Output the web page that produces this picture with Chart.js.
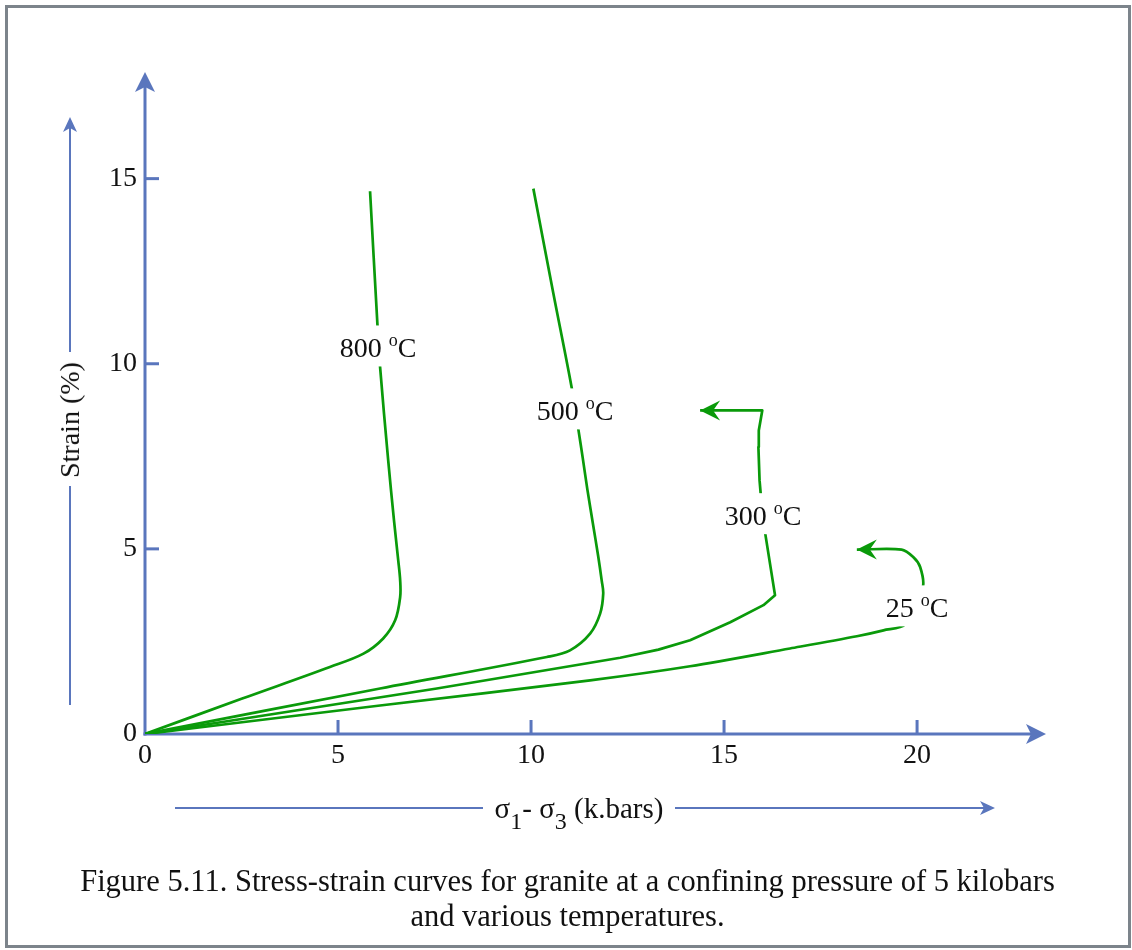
<!DOCTYPE html>
<html><head><meta charset="utf-8">
<script src="https://cdn.jsdelivr.net/npm/chart.js@4.4.1/dist/chart.umd.min.js"></script>
<style>
html,body{margin:0;padding:0;background:#fff;}
#wrap{position:relative;width:1132px;height:950px;overflow:hidden;font-family:"Liberation Serif","Times New Roman",serif;color:#111;}
#frame{position:absolute;left:5px;top:5px;width:1126px;height:943px;box-sizing:border-box;border:3px solid #7c848b;}
canvas{position:absolute;left:0;top:0;}
.t{position:absolute;white-space:nowrap;line-height:1;}
.sb{font-size:24px;position:relative;top:11px;}
</style></head><body>
<div id="wrap">
<div id="frame"></div>
<canvas id="c" width="1132" height="950"></canvas>
<div class="t" id="xt" style="left:579px;top:794px;font-size:29px;transform:translateX(-50%);">σ<span class="sb">1</span>- σ<span class="sb">3</span> (k.bars)</div>
<div class="t" id="yt" style="left:70px;top:420px;font-size:28px;transform:translate(-50%,-50%) rotate(-90deg);">Strain (%)</div>
<div class="t" id="cap" style="left:0;width:1135px;top:864px;font-size:30.5px;line-height:35px;text-align:center;">Figure 5.11. Stress-strain curves for granite at a confining pressure of 5 kilobars<br>and various temperatures.</div>
</div>
<script>
// ---- data (stress σ1-σ3 in kbar, strain in %) ----
const c800x = [0, 2.5, 4.79, 5.66, 6.17, 6.48, 6.61, 6.61, 6.56, 6.45, 6.30, 6.09, 6.02, 5.83];
const c800y = [0, 0.95, 1.81, 2.17, 2.58, 3.07, 3.70, 4.15, 4.69, 5.77, 7.39, 9.91, 11.08, 14.66];
const c500x = [0, 6.09, 10.41, 11.01, 11.53, 11.79, 11.87, 11.83, 11.74, 11.60, 11.46, 11.34, 11.23, 11.05, 10.58, 10.06];
const c500y = [0, 1.23, 2.08, 2.26, 2.71, 3.25, 3.79, 4.15, 4.80, 5.70, 6.60, 7.45, 8.20, 9.37, 11.89, 14.73];
const c300x = [0, 7.56, 12.31, 13.30, 14.12, 15.16, 16.02, 16.32, 16.06, 15.96, 15.92, 15.89, 15.90, 15.99, 14.38];
const c300y = [0, 1.23, 2.06, 2.28, 2.53, 3.02, 3.48, 3.75, 5.46, 6.36, 6.85, 7.75, 8.20, 8.74, 8.74];
const c25x  = [0, 6.09, 11.53, 14.12, 16.71, 18.44, 19.13, 19.69, 20.15, 20.08, 19.90, 19.60, 18.44];
const c25y  = [0, 0.77, 1.45, 1.83, 2.31, 2.64, 2.80, 2.96, 3.97, 4.51, 4.78, 4.98, 4.98];
const curveNames = ['800', '500', '300', '25'];
const labelX = [6.04, 11.14, 16.01, 20.0];
const labelY = [10.44, 8.74, 5.91, 3.42];
const arrowEnd = [false, false, true, true];
const xTickStep = 5, yTickStep = 5;
const X_MAX = 23.34, Y_MAX = 17.88;

const AXIS = '#5a76bd', GREEN = '#0a9a0a', TXT = '#111';
const SERIF = '"Liberation Serif", "Times New Roman", serif';

function pts(xs, ys){ return xs.map((x,i)=>({x:x, y:ys[i]})); }
const series = [pts(c800x,c800y), pts(c500x,c500y), pts(c300x,c300y), pts(c25x,c25y)];
const tensions = [0.35, 0.35, 0, 0.3];

function arrowHead(ctx, tx, ty, ang, len, half, notch, color){
  ctx.save(); ctx.translate(tx, ty); ctx.rotate(ang);
  ctx.beginPath(); ctx.moveTo(0,0); ctx.lineTo(-len,-half); ctx.lineTo(-len+notch,0); ctx.lineTo(-len,half); ctx.closePath();
  ctx.fillStyle = color; ctx.fill(); ctx.restore();
}
function line(ctx, x1,y1,x2,y2,w,color){
  ctx.save(); ctx.strokeStyle=color; ctx.lineWidth=w; ctx.beginPath(); ctx.moveTo(x1,y1); ctx.lineTo(x2,y2); ctx.stroke(); ctx.restore();
}

const axesPlugin = {
  id:'axesArrows',
  beforeDatasetsDraw(chart){
    const ctx = chart.ctx, xs = chart.scales.x, ys = chart.scales.y;
    const x0 = xs.getPixelForValue(0), y0 = ys.getPixelForValue(0);
    const xe = xs.getPixelForValue(X_MAX), ye = ys.getPixelForValue(Y_MAX);
    line(ctx, x0-1.5, y0, xe-12, y0, 3, AXIS);
    line(ctx, x0, y0+1.5, x0, ye+12, 3, AXIS);
    arrowHead(ctx, xe, y0, 0, 20, 10, 5, AXIS);
    arrowHead(ctx, x0, ye, -Math.PI/2, 20, 10, 5, AXIS);
    xs.ticks.forEach(t=>{ if(t.value>0){ const p=xs.getPixelForValue(t.value); line(ctx,p,y0,p,y0-14,3,AXIS);} });
    ys.ticks.forEach(t=>{ if(t.value>0){ const p=ys.getPixelForValue(t.value); line(ctx,x0,p,x0+14,p,3,AXIS);} });
    // axis-title arrows
    line(ctx, 175, 808, 483, 808, 2, AXIS);
    line(ctx, 675, 808, 985, 808, 2, AXIS);
    arrowHead(ctx, 995, 808, 0, 15, 7, 4, AXIS);
    line(ctx, 70, 705, 70, 486, 2, AXIS);
    line(ctx, 70, 352, 70, 127, 2, AXIS);
    arrowHead(ctx, 70, 117, -Math.PI/2, 15, 7, 4, AXIS);
  },
  afterDatasetsDraw(chart){
    const ctx = chart.ctx, xs = chart.scales.x, ys = chart.scales.y;
    chart.data.datasets.forEach((ds, i)=>{
      if(!arrowEnd[i]) return;
      const d = chart.getDatasetMeta(i).data; const a = d[d.length-2], b = d[d.length-1];
      arrowHead(ctx, b.x, b.y, Math.atan2(b.y-a.y, b.x-a.x), 20, 10, 7, GREEN);
    });
    curveNames.forEach((n, i)=>{
      const cx = xs.getPixelForValue(labelX[i]), cy = ys.getPixelForValue(labelY[i]);
      const big = '28px ' + SERIF, small = '18px ' + SERIF;
      ctx.save();
      ctx.font = big; const w1 = ctx.measureText(n + ' ').width, w3 = ctx.measureText('C').width;
      ctx.font = small; const w2 = ctx.measureText('o').width;
      const W = w1 + w2 + w3; let x = cx - W/2;
      ctx.fillStyle = '#fff'; ctx.fillRect(x-3, cy-22, W+6, 41);
      ctx.fillStyle = TXT; ctx.textBaseline = 'alphabetic'; ctx.textAlign = 'left';
      const base = cy + 10;
      ctx.font = big; ctx.fillText(n + ' ', x, base); x += w1;
      ctx.font = small; ctx.fillText('o', x, base - 11); x += w2;
      ctx.font = big; ctx.fillText('C', x, base);
      ctx.restore();
    });
  }
};

const tickFont = {family:'Liberation Serif', size:28};
new Chart(document.getElementById('c'), {
  type:'scatter',
  data:{ datasets: series.map((s,i)=>({
    label: curveNames[i] + ' °C', data: s, showLine:true, borderColor:GREEN, borderWidth:2.7,
    tension: tensions[i], fill:false, pointRadius:0, pointHoverRadius:0, borderCapStyle:'butt', borderJoinStyle:'round'
  }))},
  options:{
    responsive:false, devicePixelRatio:1, animation:false,
    layout:{padding:{left:0, top:72, right:86, bottom:0}},
    plugins:{legend:{display:false}, tooltip:{enabled:false}},
    scales:{
      x:{type:'linear', min:0, max:X_MAX, border:{display:false}, grid:{display:false, drawTicks:false},
         ticks:{stepSize:xTickStep, includeBounds:false, color:TXT, font:tickFont, padding:5, maxRotation:0, autoSkip:false},
         afterFit:s=>{ s.height = 216; }},
      y:{type:'linear', min:0, max:Y_MAX, border:{display:false}, grid:{display:false, drawTicks:false},
         ticks:{stepSize:yTickStep, includeBounds:false, color:TXT, font:tickFont, padding:8, autoSkip:false},
         afterFit:s=>{ s.width = 145; }}
    }
  },
  plugins:[axesPlugin]
});
</script>
</body></html>
